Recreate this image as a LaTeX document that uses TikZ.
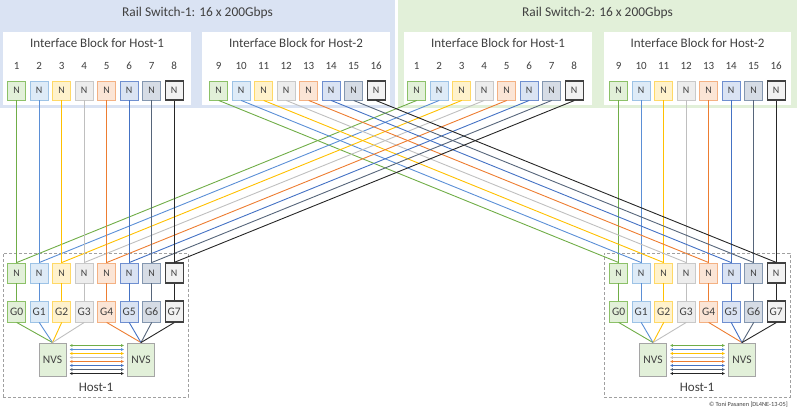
\documentclass[tikz,border=0pt]{standalone}
\usepackage{fontspec}
\setmainfont{Carlito}
\usetikzlibrary{arrows.meta,calc}
\definecolor{txt}{HTML}{404040}
\definecolor{swA}{HTML}{DAE3F3}
\definecolor{swB}{HTML}{E2F0D9}
\definecolor{L1}{HTML}{70AD47} \definecolor{B1}{HTML}{8CC168} \definecolor{F1}{HTML}{E2F0D9}
\definecolor{L2}{HTML}{5B8FD6} \definecolor{B2}{HTML}{9DC3E6} \definecolor{F2}{HTML}{DEEBF7}
\definecolor{L3}{HTML}{FFC000} \definecolor{B3}{HTML}{FFD966} \definecolor{F3}{HTML}{FFF2CC}
\definecolor{L4}{HTML}{BFBFBF} \definecolor{B4}{HTML}{C9C9C9} \definecolor{F4}{HTML}{EDEDED}
\definecolor{L5}{HTML}{ED7D31} \definecolor{B5}{HTML}{F4B183} \definecolor{F5}{HTML}{FBE5D6}
\definecolor{L6}{HTML}{4472C4} \definecolor{B6}{HTML}{6F8FD0} \definecolor{F6}{HTML}{DAE3F3}
\definecolor{L7}{HTML}{56657A} \definecolor{B7}{HTML}{8497B0} \definecolor{F7}{HTML}{D6DCE5}
\definecolor{L8}{HTML}{262626} \definecolor{B8}{HTML}{404040} \definecolor{F8}{HTML}{F2F2F2}
\definecolor{nvsF}{HTML}{E2F0D9}
\definecolor{nvsB}{HTML}{A5A5A5}
\definecolor{dashc}{HTML}{A0A0A0}
\begin{document}
\begin{tikzpicture}[x=1pt,y=-1pt,
  every node/.style={text=txt, inner sep=0pt},
  title/.style={font=\fontsize{13.4}{14}\selectfont},
  blocklab/.style={font=\fontsize{13}{14}\selectfont},
  num/.style={font=\fontsize{11}{12}\selectfont},
  nport/.style={draw, line width=0.9pt, minimum width=18pt, minimum height=19pt, font=\fontsize{10}{11}\selectfont},
  gpu/.style={draw, line width=0.9pt, minimum width=18pt, minimum height=21pt, font=\fontsize{11.5}{12}\selectfont},
  nvs/.style={draw=nvsB, fill=nvsF, line width=0.9pt, minimum width=27pt, minimum height=33pt, font=\fontsize{11.5}{12}\selectfont},
  link/.style={line width=0.9pt},
  arr/.style={{Latex[length=3pt,width=3pt]}-{Latex[length=3pt,width=3pt]}},
  hostbox/.style={draw=dashc, dash pattern=on 3pt off 2pt, line width=0.8pt},
  hostlab/.style={font=\fontsize{13}{14}\selectfont},
  copy/.style={font=\fontsize{6.3}{7}\selectfont}]
\useasboundingbox (0,0) rectangle (797,413);
% switch panels
\fill[swA] (0,0) rectangle (395,108);
\fill[swB] (398,0) rectangle (797,108);
\node[title] (t1) at (197.5,13) {Rail Switch-1: 16 x 200Gbps};
\node[title] (t2) at (597.5,13) {Rail Switch-2: 16 x 200Gbps};
% interface blocks
\fill[white] (3,32) rectangle (191,105);
\fill[white] (202,32) rectangle (390,105);
\fill[white] (404,32) rectangle (592,105);
\fill[white] (604,32) rectangle (791,105);
\node[blocklab] (ibA) at (97,43) {Interface Block for Host-1};
\node[blocklab] (ibB) at (296,43) {Interface Block for Host-2};
\node[blocklab] (ibC) at (498,43) {Interface Block for Host-1};
\node[blocklab] (ibD) at (697.5,43) {Interface Block for Host-2};
% host boxes
\node[hostbox, minimum width=185pt, minimum height=144pt] (hostL) at (95.5,325) {};
\node[hostbox, minimum width=186pt, minimum height=144pt] (hostR) at (697,325) {};
\node[hostlab] (hlL) at (96,387) {Host-1};
\node[hostlab] (hlR) at (697,387) {Host-1};
\node[copy, anchor=east] (cp) at (788,405) {\textcopyright{} Toni Pasanen [DL4NE-13-05]};
% ports and GPUs
\foreach \i in {1,...,8}{
  \pgfmathsetmacro\dx{22.5*(\i-1)}
  \pgfmathtruncatemacro\nb{\i+8}
  \ifnum\i=8 \def\lw{1.2pt}\else\def\lw{0.9pt}\fi
  \pgfmathtruncatemacro\g{\i-1}
  \node[num] (An\i) at (16.7+\dx,66) {\i};
  \node[num] (Bn\i) at (218.7+\dx,66) {\nb};
  \node[num] (Cn\i) at (416.7+\dx,66) {\i};
  \node[num] (Dn\i) at (618.7+\dx,66) {\nb};
  \node[nport, draw=B\i, fill=F\i, line width=\lw] (A\i) at (16.7+\dx,90.5) {N};
  \node[nport, draw=B\i, fill=F\i, line width=\lw] (B\i) at (218.7+\dx,90.5) {N};
  \node[nport, draw=B\i, fill=F\i, line width=\lw] (C\i) at (416.7+\dx,90.5) {N};
  \node[nport, draw=B\i, fill=F\i, line width=\lw] (D\i) at (618.7+\dx,90.5) {N};
  \node[nport, draw=B\i, fill=F\i, line width=\lw, minimum height=20pt] (HLn\i) at (16.7+\dx,273) {N};
  \node[nport, draw=B\i, fill=F\i, line width=\lw, minimum height=20pt] (HRn\i) at (618.7+\dx,273) {N};
  \node[gpu, draw=B\i, fill=F\i, line width=\lw] (HLg\i) at (16.7+\dx,311.5) {G\g};
  \node[gpu, draw=B\i, fill=F\i, line width=\lw] (HRg\i) at (618.7+\dx,311.5) {G\g};
}
% NVS
\node[nvs] (vL1) at (52.5,359.5) {NVS};
\node[nvs] (vL2) at (141,359.5) {NVS};
\node[nvs] (vR1) at (653,359.5) {NVS};
\node[nvs] (vR2) at (742,359.5) {NVS};
% links
\foreach \i in {1,...,8}{
  \draw[link, L\i] (A\i.south) -- (HLn\i.north);
  \draw[link, L\i] (D\i.south) -- (HRn\i.north);
  \draw[link, L\i] (B\i.south) -- (HRn\i.north);
  \draw[link, L\i] (C\i.south) -- (HLn\i.north);
  \draw[link, L\i] (HLn\i.south) -- (HLg\i.north);
  \draw[link, L\i] (HRn\i.south) -- (HRg\i.north);
}
\foreach \i in {1,...,4}{
  \draw[link, L\i] (HLg\i.south) -- (vL1.north);
  \draw[link, L\i] (HRg\i.south) -- (vR1.north);
}
\foreach \i in {5,...,8}{
  \draw[link, L\i] (HLg\i.south) -- (vL2.north);
  \draw[link, L\i] (HRg\i.south) -- (vR2.north);
}
\foreach \j in {1,...,8}{
  \pgfmathsetmacro\yy{-14+4*(\j-1)}
  \draw[line width=1.1pt, L\j, arr] ($(vL1.east)+(3,\yy)$) -- ($(vL2.west)+(-3,\yy)$);
  \draw[line width=1.1pt, L\j, arr] ($(vR1.east)+(3,\yy)$) -- ($(vR2.west)+(-3,\yy)$);
}
\end{tikzpicture}
\end{document}
